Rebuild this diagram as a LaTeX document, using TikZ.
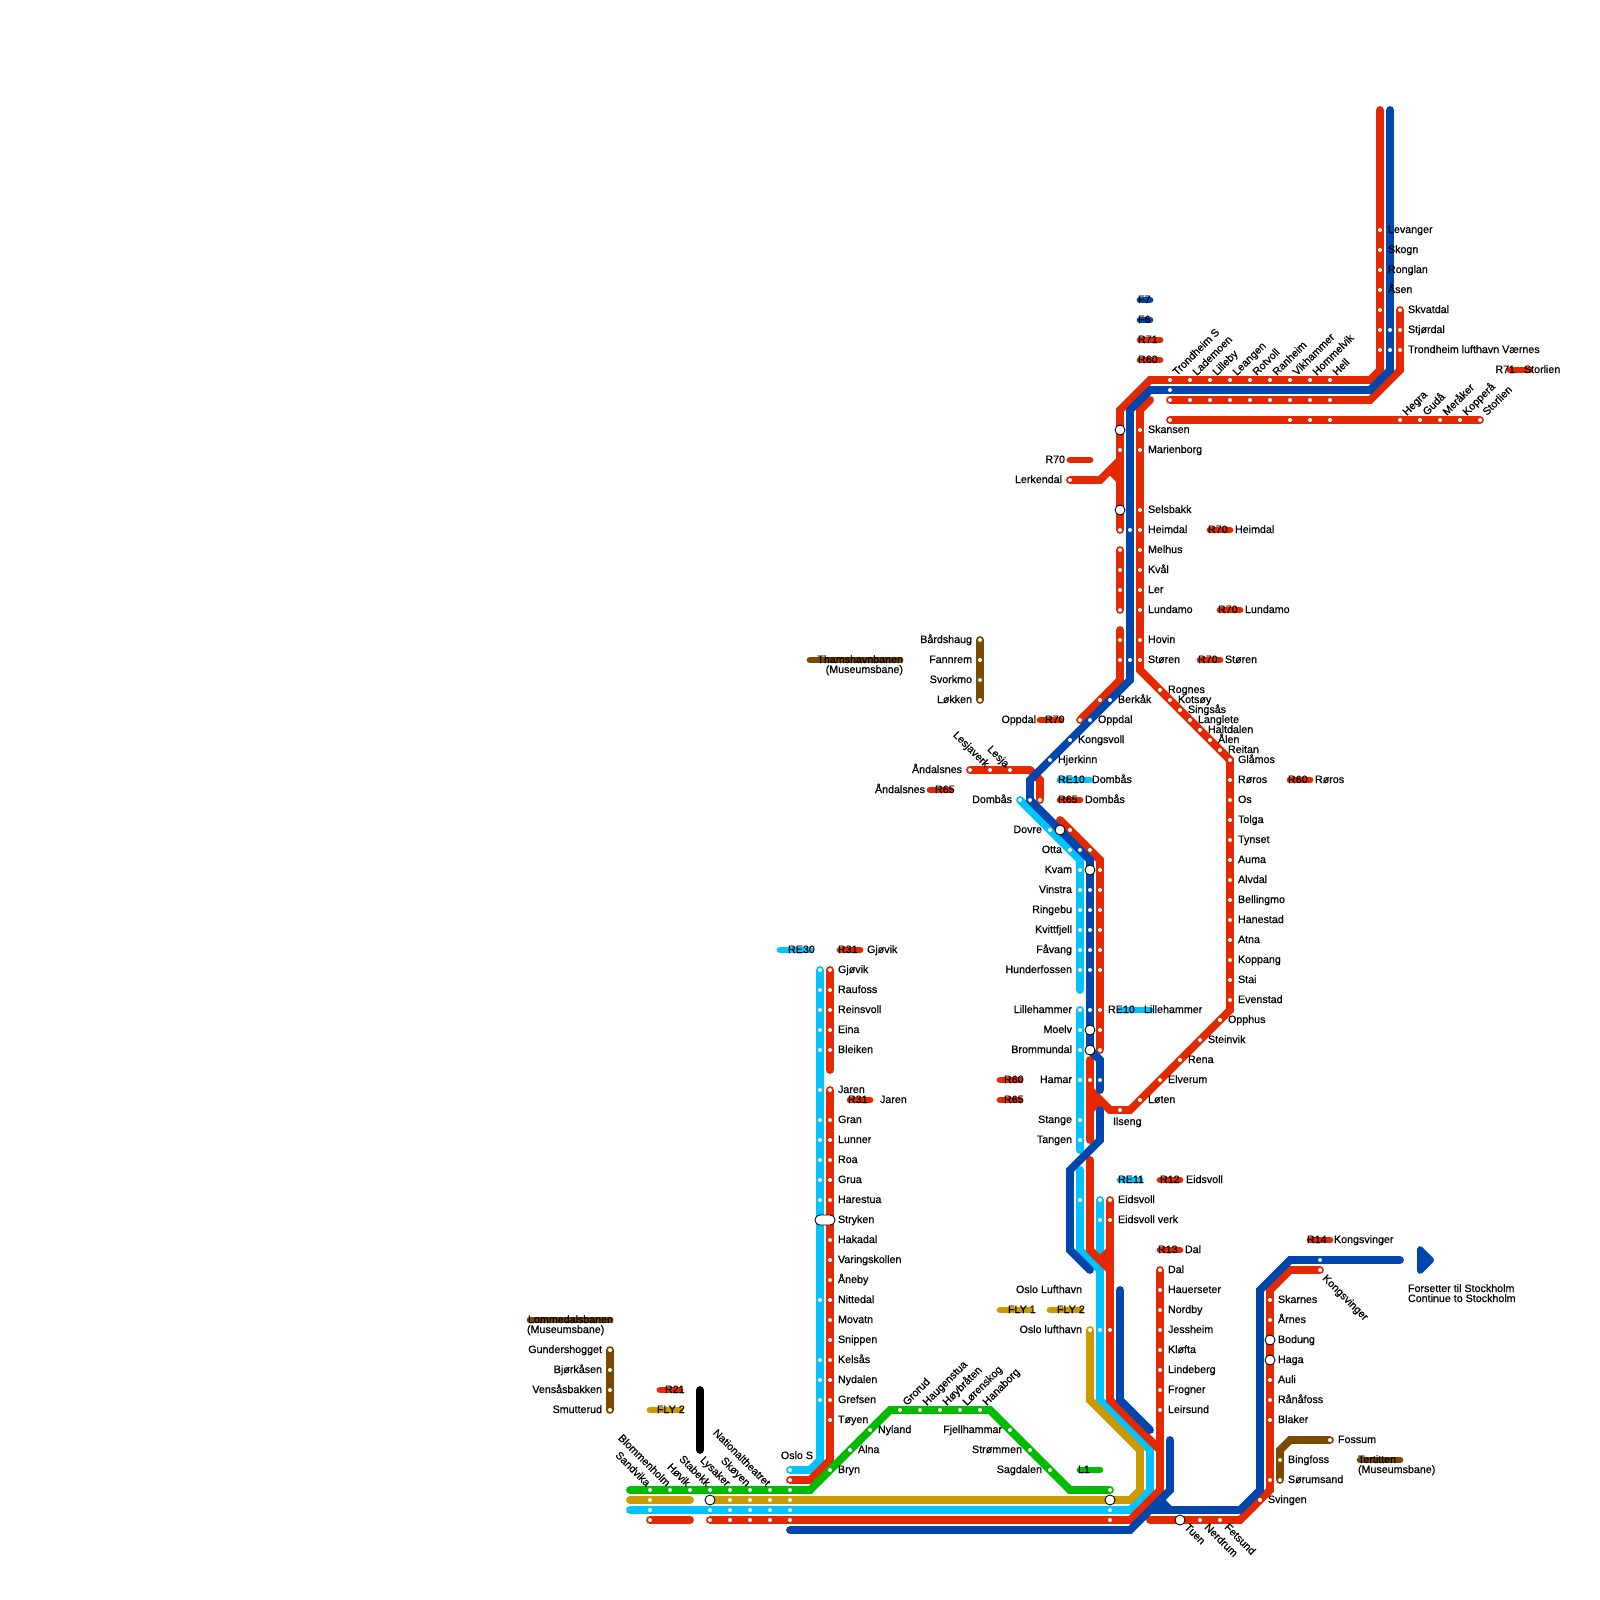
\documentclass[tikz,border=0pt]{standalone}
\usepackage{fontspec}
\setmainfont{Liberation Sans}[FakeBold=0.6]
\definecolor{cred}{RGB}{228,40,0}
\definecolor{cblue}{RGB}{0,70,173}
\definecolor{clight}{RGB}{0,195,255}
\definecolor{cgold}{RGB}{204,153,0}
\definecolor{cgreen}{RGB}{0,187,0}
\definecolor{cbrown}{RGB}{122,74,0}
\newcounter{lb}
\tikzset{
  trk/.style={line width=7.8pt,line cap=round,line join=miter,miter limit=10},
  barln/.style={line width=6.8pt,line cap=round},
  lab/.style={inner sep=0pt,outer sep=0pt,font=\fontsize{10.7}{12}\selectfont},
  hub/.style={draw=black,fill=white,line width=0.9pt}
}
% labels: x, station y, text
\newcommand{\LabL}[3]{\stepcounter{lb}\node[lab,anchor=base west] (L\thelb) at (#1,#2+3) {#3};}
\newcommand{\LabR}[3]{\stepcounter{lb}\node[lab,anchor=base east] (L\thelb) at (#1,#2+3) {#3};}
\newcommand{\LabU}[3]{\stepcounter{lb}\node[lab,anchor=base west,rotate=45] (L\thelb) at (#1,#2) {#3};}
\newcommand{\LabDE}[3]{\stepcounter{lb}\node[lab,anchor=base east,rotate=-45] (L\thelb) at (#1,#2) {#3};}
\newcommand{\LabDW}[3]{\stepcounter{lb}\node[lab,anchor=base west,rotate=-45] (L\thelb) at (#1,#2) {#3};}
\newcommand{\ColL}[2]{\foreach \yy/\txt in {#2}{\LabL{#1}{\yy}{\txt}}}
\newcommand{\ColR}[2]{\foreach \yy/\txt in {#2}{\LabR{#1}{\yy}{\txt}}}
% station dots
\newcommand{\DotV}[2]{\foreach \yy in {#2}{\fill[white] (#1,\yy) circle (2);}}
\newcommand{\DotH}[2]{\foreach \xx in {#2}{\fill[white] (\xx,#1) circle (2);}}
\newcommand{\HubC}[2]{\draw[hub] (#1,#2) circle (5);}
\begin{document}
\begin{tikzpicture}[x=1pt,y=-1pt]
\useasboundingbox (0,0) rectangle (1600,1600);
\fill[white] (0,0) rectangle (1600,1600);
% light blue
\begin{scope}[trk,draw=clight]
\draw (1020,800)--(1080,860)--(1080,990);
\draw (1080,1010)--(1080,1150);
\draw (1080,1170)--(1080,1250)--(1100,1270)--(1100,1400)--(1150,1450)--(1150,1490)--(1130,1510)--(630,1510);
\draw (1100,1200)--(1100,1270);
\draw (820,970)--(820,1460)--(810,1470)--(790,1470);
\end{scope}
% gold
\begin{scope}[trk,draw=cgold]
\draw (1090,1330)--(1090,1400)--(1140,1450)--(1140,1490)--(1130,1500)--(710,1500);
\draw (630,1500)--(690,1500);
\end{scope}
% red
\begin{scope}[trk,draw=cred]
\draw (1380,110)--(1380,370)--(1370,380)--(1150,380)--(1120,410)--(1120,530);
\draw (1070,480)--(1100,480)--(1120,460);
\draw (1110,470)--(1120,480);
\draw (1120,550)--(1120,610);
\draw (1120,630)--(1120,680)--(1080,720);
\draw (1400,310)--(1400,370)--(1370,400)--(1170,400);
\draw (1170,420)--(1480,420);
\draw (1150,400)--(1140,410)--(1140,670)--(1230,760)--(1230,1010)--(1130,1110)--(1110,1110)--(1090,1090);
\draw (970,770)--(1030,770);
\draw (1030,770)--(1040,780)--(1040,800);
\draw (1060,820)--(1100,860)--(1100,1050);
\draw (1090,1060)--(1090,1140);
\draw (1090,1110)--(1100,1100);
\draw (1090,1160)--(1090,1250)--(1110,1270);
\draw (1100,1260)--(1110,1250);
\draw (1110,1200)--(1110,1400)--(1160,1450);
\draw (1160,1270)--(1160,1490)--(1130,1520)--(710,1520);
\draw (650,1520)--(690,1520);
\draw (1150,1520)--(1240,1520)--(1270,1490)--(1270,1290)--(1290,1270)--(1320,1270);
\draw (830,970)--(830,1070);
\draw (830,1090)--(830,1460)--(810,1480)--(790,1480);
\end{scope}
% blue
\begin{scope}[trk,draw=cblue]
\draw (1390,110)--(1390,370)--(1370,390)--(1150,390)--(1130,410)--(1130,680)--(1030,780)--(1030,800)--(1090,860)--(1090,1050)--(1100,1060)--(1100,1090);
\draw (1100,1110)--(1100,1140)--(1070,1170)--(1070,1250)--(1090,1270);
\draw (1120,1290)--(1120,1400)--(1150,1430);
\draw (1170,1440)--(1170,1490)--(1130,1530)--(790,1530);
\draw (1150,1510)--(1240,1510)--(1260,1490)--(1260,1290)--(1290,1260)--(1400,1260);
\draw (1160,1500)--(1170,1510);
\end{scope}
\fill[cblue,draw=cblue,line width=6pt,line join=round] (1420,1249)--(1420,1271)--(1431,1260)--cycle;
% green
\draw[trk,draw=cgreen] (630,1490)--(810,1490)--(890,1410)--(990,1410)--(1070,1490)--(1110,1490);
% brown
\begin{scope}[trk,draw=cbrown]
\draw (610,1350)--(610,1410);
\draw (980,640)--(980,700);
\draw (1280,1480)--(1280,1450)--(1290,1440)--(1330,1440);
\end{scope}
% black
\draw[trk,draw=black] (700,1390)--(700,1450);
% legend bars
\begin{scope}[barln]
\foreach \aa/\bb/\yy in {1140/1150/300,1140/1150/320}{\draw[cblue] (\aa,\yy)--(\bb,\yy);}
\foreach \aa/\bb/\yy in {1140/1160/340,1140/1160/360,1510/1530/370,1070/1090/460,1210/1230/530,1220/1240/610,1200/1220/660,1040/1060/720,930/950/790,1060/1080/800,1290/1310/780,840/860/950,850/870/1100,1000/1020/1080,1000/1020/1100,1160/1180/1180,1160/1180/1250,1310/1330/1240,660/680/1390}{\draw[cred] (\aa,\yy)--(\bb,\yy);}
\foreach \aa/\bb/\yy in {1060/1090/780,1120/1150/1010,1120/1140/1180,780/810/950}{\draw[clight] (\aa,\yy)--(\bb,\yy);}
\foreach \aa/\bb/\yy in {1000/1030/1310,1050/1080/1310,650/680/1410}{\draw[cgold] (\aa,\yy)--(\bb,\yy);}
\foreach \aa/\bb/\yy in {810/900/660,530/610/1320,1360/1400/1460}{\draw[cbrown] (\aa,\yy)--(\bb,\yy);}
\draw[cgreen] (1080,1470)--(1100,1470);
\end{scope}
% station dots
\DotV{1380}{230,250,270,290,310,330,350}
\DotV{1390}{330,350}
\DotV{1400}{310,330,350}
\DotH{380}{1170,1190,1210,1230,1250,1270,1290,1310,1330}
\DotH{390}{1170}
\DotH{400}{1170,1190,1210,1230,1250,1270,1290,1310,1330}
\DotH{420}{1170,1290,1310,1330,1400,1420,1440,1460,1480}
\DotV{1120}{450,530,550,570,590,610,640,660}
\DotV{1130}{530,660}
\DotV{1140}{430,450,510,530,550,570,590,610,640,660}
\DotH{480}{1070}
\DotH{700}{1100,1110}
\DotH{720}{1080,1090}
\DotH{740}{1070}
\DotH{760}{1050}
\DotH{770}{970,990,1010}
\DotH{800}{1020,1030,1040}
\DotH{830}{1050,1070}
\DotH{850}{1070,1080,1090}
\DotV{1080}{870,890,910,930,950,970,1010,1030,1050,1080,1120,1140,1200}
\DotV{1090}{890,910,930,950,970,1010,1080}
\DotV{1100}{870,890,910,930,950,970,1010,1030,1050,1080,1200,1220,1330}
\DotV{1110}{1200,1220,1330}
\foreach \xx/\yy in {1160/690,1170/700,1180/710,1190/720,1200/730,1210/740,1220/750,1120/1110,1140/1100,1160/1080,1180/1060,1200/1040,1220/1020}{\fill[white] (\xx,\yy) circle (2);}
\DotV{1230}{760,780,800,820,840,860,880,900,920,940,960,980,1000}
\DotV{980}{640,660,680,700}
\DotV{610}{1350,1370,1390,1410}
\DotV{820}{970,990,1010,1030,1050,1090,1120,1140,1160,1180,1200,1300,1360,1380,1400}
\DotV{830}{970,990,1010,1030,1050,1090,1120,1140,1160,1180,1200,1240,1260,1280,1300,1320,1340,1360,1380,1400,1420}
\DotH{1470}{790,830,1050}
\DotH{1480}{790}
\DotH{1450}{850,1030}
\DotH{1430}{870,1010}
\DotH{1410}{900,920,940,960,980}
\DotH{1490}{650,670,690,710,730,750,770,790,1110}
\DotH{1500}{650,730,750,770,790,1260}
\DotH{1510}{650,710,730,750,770,790,1110}
\DotH{1520}{650,710,730,750,770,790,1110,1200,1220}
\DotV{1160}{1270,1290,1310,1330,1350,1370,1390,1410}
\DotV{1090}{1330}
\DotH{1260}{1320}
\DotH{1270}{1320}
\DotV{1270}{1300,1320,1380,1400,1420,1480}
\DotV{1280}{1460,1480}
\DotH{1440}{1330}
% interchanges
\HubC{1120}{430}\HubC{1120}{510}\HubC{1060}{830}\HubC{1090}{870}\HubC{1090}{1030}\HubC{1090}{1050}\HubC{710}{1500}\HubC{1110}{1500}\HubC{1180}{1520}\HubC{1270}{1340}\HubC{1270}{1360}
\draw[hub,rounded corners=4.8pt] (815,1215) rectangle (835,1225);
% labels
\ColL{1388}{230/Levanger,250/Skogn,270/Ronglan,290/Åsen}
\ColL{1408}{310/Skvatdal,330/Stjørdal,350/Trondheim lufthavn Værnes}
\LabR{1515}{370}{R71}\LabL{1524}{370}{Storlien}
\foreach \xx/\txt in {1170/Trondheim S,1190/Lademoen,1210/Lilleby,1230/Leangen,1250/Rotvoll,1270/Ranheim,1290/Vikhammer,1310/Hommelvik,1330/Hell,1400/Hegra,1420/Gudå,1440/Meråker,1460/Kopperå,1480/Storlien}{\pgfmathsetmacro{\yb}{\xx>1390?416:376}\LabU{\xx+7}{\yb}{\txt}}
\ColL{1138}{300/F7,320/F6,340/R71,360/R60}
\LabR{1065}{460}{R70}\LabR{1062}{480}{Lerkendal}
\ColL{1148}{430/Skansen,450/Marienborg,510/Selsbakk,530/Heimdal,550/Melhus,570/Kvål,590/Ler,610/Lundamo,640/Hovin,660/Støren}
\LabL{1208}{530}{R70}\LabL{1235}{530}{Heimdal}
\LabL{1218}{610}{R70}\LabL{1245}{610}{Lundamo}
\LabL{1198}{660}{R70}\LabL{1225}{660}{Støren}
\LabR{903}{660}{Thamshavnbanen}\LabR{903}{670}{(Museumsbane)}
\ColR{972}{640/Bårdshaug,660/Fannrem,680/Svorkmo,700/Løkken}
\LabL{1168}{690}{Rognes}\LabL{1178}{700}{Kotsøy}\LabL{1188}{710}{Singsås}\LabL{1198}{720}{Langlete}\LabL{1208}{730}{Haltdalen}\LabL{1218}{740}{Ålen}\LabL{1228}{750}{Reitan}
\ColL{1238}{760/Glåmos,780/Røros,800/Os,820/Tolga,840/Tynset,860/Auma,880/Alvdal,900/Bellingmo,920/Hanestad,940/Atna,960/Koppang,980/Stai,1000/Evenstad}
\LabL{1288}{780}{R60}\LabL{1315}{780}{Røros}
\LabL{1118}{700}{Berkåk}\LabL{1098}{720}{Oppdal}\LabL{1078}{740}{Kongsvoll}\LabL{1058}{760}{Hjerkinn}
\LabR{1036}{720}{Oppdal}\LabL{1045}{720}{R70}
\LabR{962}{770}{Åndalsnes}\LabR{925}{790}{Åndalsnes}\LabL{935}{790}{R65}
\LabDE{985}{768}{Lesjaverk}\LabDE{1005}{768}{Lesja}
\LabL{1058}{780}{RE10}\LabL{1092}{780}{Dombås}
\LabL{1058}{800}{R65}\LabL{1085}{800}{Dombås}
\LabR{1012}{800}{Dombås}\LabR{1042}{830}{Dovre}\LabR{1062}{850}{Otta}
\ColR{1072}{870/Kvam,890/Vinstra,910/Ringebu,930/Kvittfjell,950/Fåvang,970/Hunderfossen,1010/Lillehammer,1030/Moelv,1050/Brommundal,1080/Hamar,1120/Stange,1140/Tangen}
\LabL{1004}{1080}{R60}\LabL{1004}{1100}{R65}
\LabL{1108}{1010}{RE10}\LabL{1144}{1010}{Lillehammer}
\LabL{1113}{1122}{Ilseng}\LabL{1148}{1100}{Løten}\LabL{1168}{1080}{Elverum}\LabL{1188}{1060}{Rena}\LabL{1208}{1040}{Steinvik}\LabL{1228}{1020}{Opphus}
\LabL{1118}{1200}{Eidsvoll}\LabL{1118}{1220}{Eidsvoll verk}
\LabL{1118}{1180}{RE11}\LabL{1160}{1180}{R12}\LabL{1186}{1180}{Eidsvoll}
\LabL{1158}{1250}{R13}\LabL{1185}{1250}{Dal}
\ColL{1168}{1270/Dal,1290/Hauerseter,1310/Nordby,1330/Jessheim,1350/Kløfta,1370/Lindeberg,1390/Frogner,1410/Leirsund}
\LabR{1082}{1290}{Oslo Lufthavn}\LabL{1008}{1310}{FLY 1}\LabL{1057}{1310}{FLY 2}\LabR{1082}{1330}{Oslo lufthavn}
\LabL{1078}{1470}{L1}
\LabR{1002}{1430}{Fjellhammar}\LabR{1022}{1450}{Strømmen}\LabR{1042}{1470}{Sagdalen}
\LabL{878}{1430}{Nyland}\LabL{858}{1450}{Alna}\LabL{838}{1470}{Bryn}
\LabR{813}{1456}{Oslo S}
\foreach \xx/\txt in {900/Grorud,920/Haugenstua,940/Høybråten,960/Lørenskog,980/Hanaborg}{\LabU{\xx+7}{1406}{\txt}}
\ColL{838}{970/Gjøvik,990/Raufoss,1010/Reinsvoll,1030/Eina,1050/Bleiken,1090/Jaren,1120/Gran,1140/Lunner,1160/Roa,1180/Grua,1200/Harestua,1220/Stryken,1240/Hakadal,1260/Varingskollen,1280/Åneby,1300/Nittedal,1320/Movatn,1340/Snippen,1360/Kelsås,1380/Nydalen,1400/Grefsen,1420/Tøyen}
\LabL{788}{950}{RE30}\LabL{838}{950}{R31}\LabL{867}{950}{Gjøvik}
\LabL{848}{1100}{R31}\LabL{880}{1100}{Jaren}
\foreach \xx/\txt in {650/Sandvika,670/Blommenholm,690/Høvik,710/Stabekk,730/Lysaker,750/Skøyen,770/Nationaltheatret}{\LabDE{\xx-4}{1487}{\txt}}
\LabDW{1184}{1528}{Tuen}\LabDW{1204}{1528}{Nerdrum}\LabDW{1224}{1528}{Fetsund}\LabDW{1322}{1279}{Kongsvinger}
\LabL{665}{1390}{R21}\LabL{657}{1410}{FLY 2}
\LabL{528}{1320}{Lommedalsbanen}\LabL{527}{1330}{(Museumsbane)}
\ColR{602}{1350/Gundershogget,1370/Bjørkåsen,1390/Vensåsbakken,1410/Smutterud}
\LabL{1268}{1500}{Svingen}
\ColL{1278}{1300/Skarnes,1320/Årnes,1340/Bodung,1360/Haga,1380/Auli,1400/Rånåfoss,1420/Blaker}
\LabL{1338}{1440}{Fossum}\LabL{1288}{1460}{Bingfoss}\LabL{1288}{1480}{Sørumsand}
\LabL{1358}{1460}{Tertitten}\LabL{1358}{1470}{(Museumsbane)}
\LabL{1307}{1240}{R14}\LabL{1334}{1240}{Kongsvinger}
\LabL{1408}{1289}{Forsetter til Stockholm}\LabL{1408}{1299}{Continue to Stockholm}
\end{tikzpicture}
\end{document}
